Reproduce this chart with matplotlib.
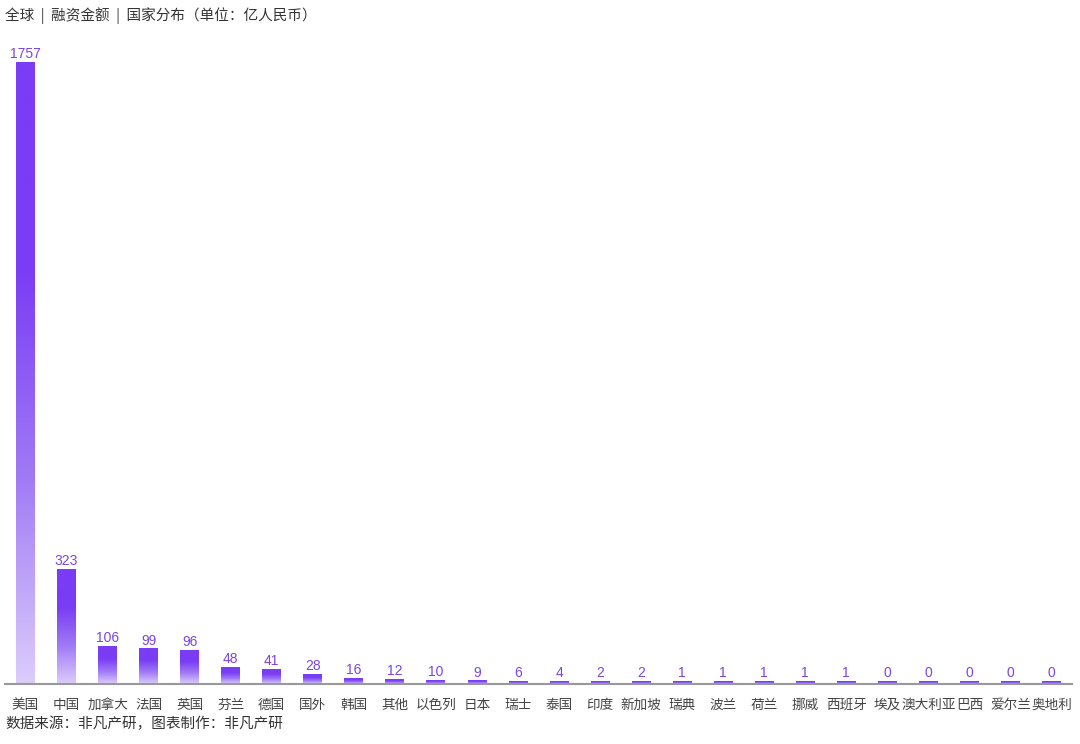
import matplotlib
matplotlib.use("Agg")
import matplotlib.pyplot as plt
import numpy as np
from matplotlib.colors import LinearSegmentedColormap

plt.rcParams['font.family'] = ['Noto Sans CJK SC', 'DejaVu Sans']

countries = ["美国", "中国", "加拿大", "法国", "英国", "芬兰", "德国", "国外", "韩国", "其他",
             "以色列", "日本", "瑞士", "泰国", "印度", "新加坡", "瑞典", "波兰", "荷兰", "挪威",
             "西班牙", "埃及", "澳大利亚", "巴西", "爱尔兰", "奥地利"]
values = [1757, 323, 106, 99, 96, 48, 41, 28, 16, 12,
          10, 9, 6, 4, 2, 2, 1, 1, 1, 1,
          1, 0, 0, 0, 0, 0]

title = "全球  |  融资金额  |  国家分布（单位：亿人民币）"
footer = "数据来源：非凡产研，图表制作：非凡产研"

W, H = 1080, 744
fig = plt.figure(figsize=(W / 100, H / 100), dpi=100)
ax_left, ax_right = 5, 1072
ax_bottom, ax_top = 684, 40
ax = fig.add_axes([ax_left / W, 1 - ax_bottom / H, (ax_right - ax_left) / W, (ax_bottom - ax_top) / H])

ymax = 1757 * (ax_bottom - ax_top) / (684 - 62)
x = np.arange(len(countries))
bars = ax.bar(x, values, width=0.46, color='none', edgecolor='none')

cmap = LinearSegmentedColormap.from_list("pg", ["#DCCDFB", "#A07AF6", "#7A3CF4", "#7A3CF4"])
grad = np.linspace(0, 1, 256).reshape(-1, 1)
for b, v in zip(bars, values):
    h = max(v, ymax * 0.004)
    x0 = b.get_x()
    ax.imshow(grad, extent=[x0, x0 + b.get_width(), 0, h], origin='lower', cmap=cmap,
              aspect='auto', zorder=2)
    ax.text(b.get_x() + b.get_width() / 2, max(v, ymax * 0.004) + ymax * 0.002, str(v),
            ha='center', va='bottom', fontsize=10, color='#7B45DF', family=['Liberation Sans'])

ax.set_xlim(-0.5, len(countries) - 0.5)
ax.set_ylim(0, ymax)
ax.set_xticks(x)
ax.set_xticklabels(countries, fontsize=9.8, color='#444444')
ax.tick_params(axis='x', length=0, pad=10)
ax.set_yticks([])
for s in ['top', 'right', 'left']:
    ax.spines[s].set_visible(False)
ax.spines['bottom'].set_color('#999999')
ax.spines['bottom'].set_linewidth(1.5)
ax.spines['bottom'].set_zorder(3)

fig.text(5 / W, 1 - 16 / H, title, ha='left', va='center', fontsize=10.5, color='#333333')
fig.text(5 / W, 1 - 724 / H, footer, ha='left', va='center', fontsize=10.5, color='#333333')

fig.savefig("out.png", dpi=100)
